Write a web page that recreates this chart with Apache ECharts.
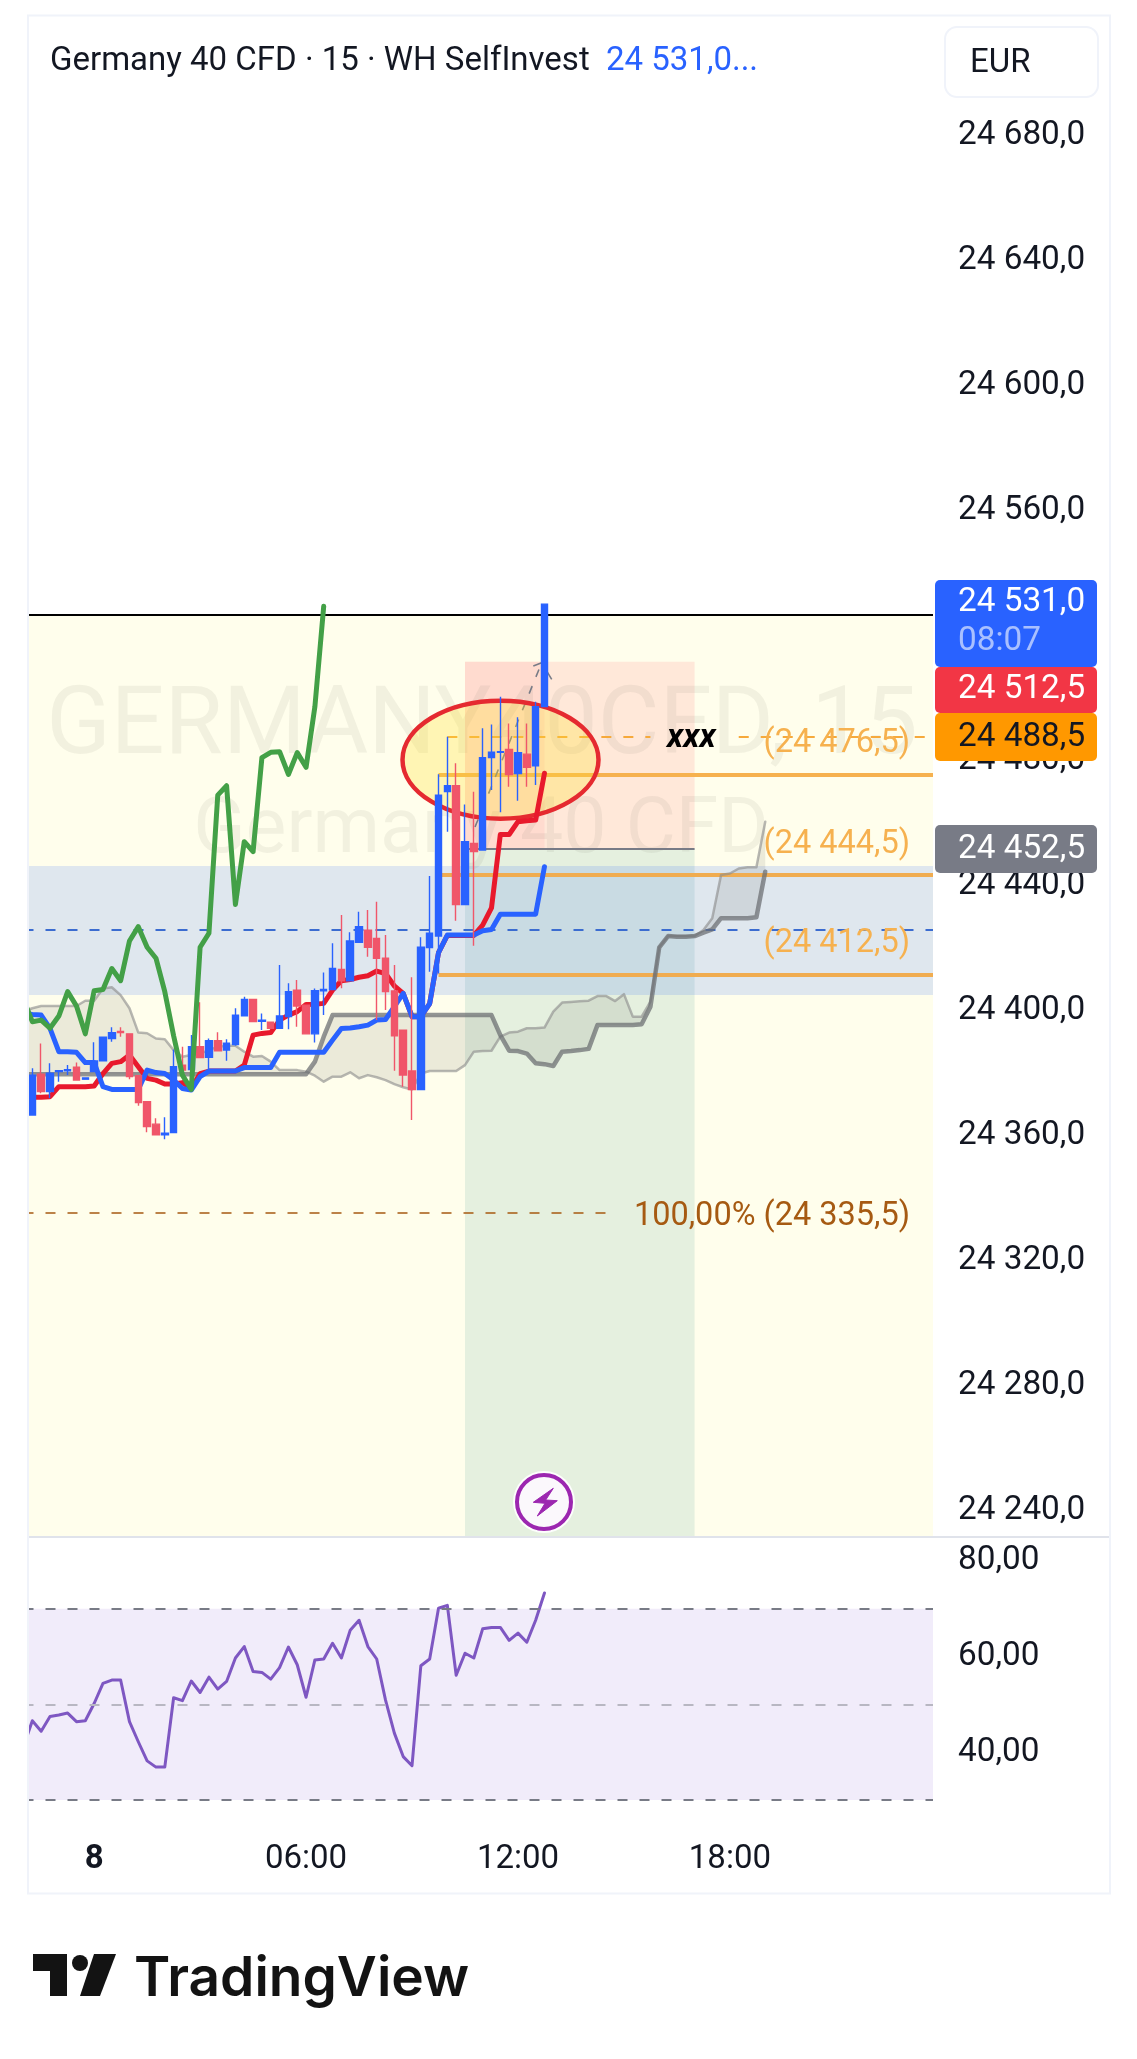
<!DOCTYPE html>
<html><head><meta charset="utf-8">
<style>html,body{margin:0;padding:0;background:#fff}#c{width:1137px;height:2059px}</style>
<script src="https://cdn.jsdelivr.net/npm/echarts@6/dist/echarts.min.js"></script>
</head><body><div id="c"></div>
<script>
const categories=['22:00','22:15','22:30','22:45','23:00','23:15','23:30','23:45',
'00:00','00:15','00:30','00:45','01:00','01:15','01:30','01:45','02:00','02:15','02:30','02:45','03:00','03:15','03:30','03:45',
'04:00','04:15','04:30','04:45','05:00','05:15','05:30','05:45','06:00','06:15','06:30','06:45','07:00','07:15','07:30','07:45',
'08:00','08:15','08:30','08:45','09:00','09:15','09:30','09:45','10:00','10:15','10:30','10:45','11:00','11:15','11:30','11:45',
'12:00','12:15','12:30','12:45','13:00','13:15','13:30','13:45','14:00','14:15','14:30','14:45','15:00','15:15','15:30','15:45',
'16:00','16:15','16:30','16:45','17:00','17:15','17:30','17:45','18:00','18:15','18:30','18:45','19:00','19:15','19:30','19:45',
'20:00','20:15','20:30','20:45','21:00','21:15','21:30','21:45','22:00','22:15','22:30','22:45','23:00','23:15','23:30','23:45'];
const xTickCats=['00:00','06:00','12:00','18:00'];
const xTickLabels=['{b|8}','06:00','12:00','18:00'];
const yTicks=[24240,24280,24320,24360,24400,24440,24480,24520,24560,24600,24640,24680];
const yTickLabels=['24 240,0','24 280,0','24 320,0','24 360,0','24 400,0','24 440,0','24 480,0','','24 560,0','24 600,0','24 640,0','24 680,0'];
const rsiTicks=[40,60,80];
const rsiTickLabels=['40,00','60,00','80,00'];

const candleOpen=[24366.7,24379.8,24374.2,24380.6,24380.9,24382,24378.2,24380.6,24384.1,24391.2,24393.5,24392.7,24379.3,24371,24363.8,24360.4,24361.1,24382.7,24381.3,24388.6,24385.2,24390.5,24387.5,24389.3,24398.5,24403.7,24396.7,24396.4,24394.5,24398.2,24406.7,24401.9,24392.7,24406.5,24406.9,24413.3,24409.7,24422,24425.9,24423.2,24416.9,24406.4,24393.9,24380.8,24374.9,24420.3,24424,24470.2,24472.1,24434.1,24453.65,24451.5,24481.1,24482.8,24483.7,24476,24482.2,24478.5,24497.4];
const candleClose=[24379.5,24374.2,24380.1,24380.9,24381.2,24377.9,24378.6,24384,24391.6,24393.1,24393.1,24379,24370.7,24363,24360.4,24360.9,24382.2,24381.1,24388.6,24385.1,24390.5,24387.3,24389.7,24398.7,24403.7,24396.6,24397.1,24394.5,24398.4,24406.2,24401.6,24392.7,24406.5,24406.9,24413.6,24409.7,24422.4,24427,24420.4,24416.9,24406.2,24392.1,24379.5,24374.9,24420.4,24424.9,24469.1,24472.1,24434.1,24454.2,24451,24481.1,24482.8,24483,24475.7,24482.7,24478,24497.4,24530.2];
const candleLow=[24366.7,24373.7,24372.1,24377.4,24379.5,24377.9,24378.2,24380.6,24384.1,24390.2,24391.8,24378.2,24369.7,24361.2,24360.4,24359,24361.1,24379,24380,24385.1,24381.1,24387.3,24384.1,24388.9,24398.5,24396.6,24393.9,24394.5,24394.5,24394.2,24395,24392.7,24389.9,24398.7,24406.7,24407.3,24409.7,24422,24417.4,24397.1,24400.3,24380.9,24375.8,24365.1,24374.9,24412.6,24412,24457.4,24428.9,24434.1,24420.9,24451.5,24470.7,24463.6,24471.8,24467.3,24471.8,24472.3,24497.4];
const candleHigh=[24381.7,24389.6,24383.3,24380.9,24382.7,24383.5,24378.6,24390,24391.6,24394.8,24394.8,24392.7,24379.3,24371,24365.7,24366,24387.7,24388.6,24392.3,24402.8,24391.2,24393.2,24391,24400.9,24404.6,24403.7,24399.2,24396.4,24414.7,24408.9,24409.9,24401.9,24407.2,24412.3,24421.7,24430.7,24425.2,24431.8,24432.3,24435,24424.3,24414.7,24393.9,24410.8,24423.6,24443.2,24475.8,24487.8,24479.25,24466.1,24470.2,24490.45,24491.7,24500.6,24492,24494,24492,24499,24530.2];

const baseLine=[24399.25,24398.9,24398.7,24394.45,24387,24387,24386.8,24383.5,24383.5,24375.8,24374.9,24374.9,24374.9,24374.9,24381.1,24380.3,24380,24377.9,24375.2,24374.7,24379,24380.8,24380.8,24380.8,24380.8,24381.9,24381.9,24381.9,24381.9,24386.8,24386.8,24386.8,24386.8,24386.8,24386.8,24390.7,24394.45,24394.6,24395,24395.5,24397.1,24397.3,24401.4,24405.65,24398.2,24398.2,24402.4,24418.7,24424.3,24424.3,24424.3,24424.3,24425.7,24426.1,24431,24431,24431,24431,24431,24446.2];
const conversionLine=[24375.8,24372.4,24372.4,24372.6,24375.8,24375.8,24375.8,24375.8,24376,24380,24383.25,24383.8,24385.9,24382.2,24378.45,24377.9,24376.65,24376.65,24377.1,24375.25,24380,24380.8,24380.8,24380.8,24380.8,24382.7,24392.3,24392.85,24393.1,24397.1,24398.7,24399.8,24402.1,24402.2,24402.45,24406.7,24409.7,24410.1,24410.8,24411.3,24412.8,24412,24408,24405.65,24398.2,24398.2,24402.4,24418.7,24424.2,24424.2,24424.2,24424.2,24427.5,24433,24456.5,24456.5,24460.6,24460.9,24461.1,24476.1];
const laggingSpan=[24403.7,24396.6,24397.1,24394.5,24398.4,24406.2,24401.6,24392.7,24406.5,24406.9,24413.6,24409.7,24422.4,24427,24420.4,24416.9,24406.2,24392.1,24379.5,24374.9,24420.4,24424.9,24469.1,24472.1,24434.1,24454.2,24451,24481.1,24482.8,24483,24475.7,24482.7,24478,24497.4,24529.5];
const spanA=[24399.8,24400.9,24401.6,24401.6,24401.6,24401.6,24401.6,24403.3,24403.3,24407.2,24407.6,24405.1,24400.9,24393.1,24392.9,24391.2,24391,24387.5,24385.4,24385.9,24386.4,24387.5,24388.6,24388.9,24388.9,24387,24385.4,24385.6,24383.8,24381.1,24381.1,24381.1,24380.6,24379.3,24377.4,24379,24379,24380.4,24378.5,24379.5,24378.8,24377.9,24376.6,24375.6,24374.9,24380,24380.8,24380.8,24380.8,24380.8,24382.7,24387,24387.2,24387.3,24391.8,24393.1,24393.4,24394.5,24394.5,24394.7,24399.8,24402.7,24402.9,24403.1,24403.3,24404.8,24404.8,24403.2,24405.4,24398.2,24398.2,24403,24420.4,24424,24424,24424,24424,24425.9,24429.7,24443.5,24444,24445.6,24446,24446,24460.6];
const spanB=[24379.8,24379.8,24379.8,24379.8,24379.8,24379.8,24379.8,24379.8,24379.8,24379.8,24379.8,24379.8,24379.8,24379.8,24379.8,24379.8,24379.8,24379.8,24379.8,24379.8,24379.8,24379.8,24379.8,24379.8,24379.8,24379.8,24379.8,24379.8,24379.8,24379.8,24379.8,24379.8,24379.8,24383.8,24391.8,24398.7,24398.7,24398.7,24398.7,24398.7,24398.7,24398.7,24398.7,24398.7,24398.7,24398.7,24398.7,24398.7,24398.7,24398.7,24398.7,24398.7,24398.7,24398.7,24392.3,24387.3,24387.2,24386.4,24383.3,24383,24382.4,24387,24387.2,24387.5,24387.9,24395.5,24395.5,24395.5,24395.5,24395.5,24395.8,24401.4,24420.4,24424,24423.8,24423.8,24424,24425.1,24426.1,24429.7,24429.7,24429.7,24429.7,24430,24444.6];
const rsi=[41.2,46.6,44.4,47.5,47.8,48.2,46.4,46.6,50.2,54.4,55.1,55.1,46.4,42.2,38.2,36.9,36.9,51.4,50.8,54.9,52.5,55.7,53.2,54.8,59.7,62.1,56.9,56.7,55.3,57.7,62,58.3,51.5,59.3,59.5,62.8,59.7,65.5,67.6,62.1,59.5,50.9,44,39.1,37.2,58.1,59.5,70.1,70.7,56.1,60.7,59.7,65.8,66.1,66.1,63.4,64.9,63,67.6,73.3];

const PMIN=24231.7,PMAX=24718.4,RMIN=24.8,RMAX=85,LAST=103;
const frameTop=24526.7, bandHi=24446.4, bandLo=24405.1, riskTop=24511.8, entry=24451.84;
const fibLevels=[24475.7,24443.7,24411.7];
const fibDash=24487.8, fibBottom=24335.5, lastClose=24425.9;
const font='Roboto';
const seg=(c1,c2,p,style)=>[{coord:[c1,p],lineStyle:style},{coord:[c2,p]}];
const area=(c1,p1,c2,p2,color)=>[{coord:[c1,p1],itemStyle:{color}},{coord:[c2,p2]}];

const chart=echarts.init(document.getElementById('c'),null,{renderer:'canvas'});
const lineSer=(name,data,color,width,z)=>({name,type:'line',data,z,showSymbol:false,symbol:'none',lineStyle:{color,width,join:'round',cap:'round'},itemStyle:{color},silent:true,animation:false,clip:true});

const orange='#F6B14F';
chart.setOption({
 animation:false,
 grid:[{left:23.5,width:909.5,top:16,height:1521},{left:23.5,width:909.5,top:1537,height:288}],
 xAxis:[
  {type:'category',gridIndex:0,data:categories,boundaryGap:false,axisLine:{show:false},axisTick:{show:false},axisLabel:{show:false},splitLine:{show:false}},
  {type:'category',gridIndex:1,data:categories,boundaryGap:false,axisLine:{show:false},axisTick:{show:false},splitLine:{show:false},
   axisLabel:{interval:(i,v)=>xTickCats.includes(v)&&i<104,formatter:v=>xTickLabels[xTickCats.indexOf(v)],margin:18,fontFamily:font,fontSize:33,color:'#131722',
    rich:{b:{fontFamily:font,fontSize:33,fontWeight:'bold',color:'#131722'}}}}
 ],
 yAxis:[
  {type:'value',gridIndex:0,position:'right',min:PMIN,max:PMAX,axisLine:{show:false},axisTick:{show:false},splitLine:{show:false},
   axisLabel:{customValues:yTicks,formatter:v=>yTickLabels[yTicks.indexOf(v)],margin:25,padding:[8,0,0,0],fontFamily:font,fontSize:33.3,color:'#131722'}},
  {type:'value',gridIndex:1,position:'right',min:RMIN,max:RMAX,axisLine:{show:false},axisTick:{show:false},splitLine:{show:false},
   axisLabel:{customValues:rsiTicks,formatter:v=>rsiTickLabels[rsiTicks.indexOf(v)],margin:25,padding:[2,0,0,0],fontFamily:font,fontSize:33.3,color:'#131722'}}
 ],
 series:[
  {name:'bands',type:'line',data:[],z:1,silent:true,
   markArea:{silent:true,z:1,data:[
    area(0,frameTop,LAST,PMIN,'#FFFEEC'),
    area(50,riskTop,76,entry,'rgba(255,82,90,0.13)'),
    area(50,riskTop,59,entry,'rgba(255,82,90,0.08)'),
    area(50,entry,76,PMIN,'rgba(81,160,156,0.15)'),
    area(0,bandHi,LAST,bandLo,'rgba(41,98,255,0.15)')
   ]}},
  {name:'cloud',type:'custom',z:2,silent:true,clip:true,data:[[0,spanA[0]]],encode:{x:0,y:1},
   renderItem:(p,api)=>{
    const pts=spanA.map((v,i)=>api.coord([i,v])).concat(spanB.map((v,i)=>api.coord([i,v])).reverse());
    return {type:'polygon',shape:{points:pts},style:{fill:'rgba(110,112,105,0.14)',stroke:null}};
   }},
  lineSer('Leading span A',spanA,'rgba(140,140,140,0.62)',2.5,3),
  lineSer('Leading span B',spanB,'rgba(105,108,112,0.72)',4.5,3),
  {name:'levels',type:'line',data:[],z:3,silent:true,
   markLine:{silent:true,symbol:'none',z:3,label:{show:false},data:[
    seg(0,LAST,frameTop,{color:'#000',width:2,type:'solid'}),
    seg(0,LAST,lastClose,{color:'#3B6CD0',width:2,type:[10,12]}),
    seg(0,67,fibBottom,{color:'#A65A12',width:1.6,type:[10,12]}),
    seg(48,71,fibDash,{color:'#F6A93B',width:2,type:[10,12]}),
    seg(81,LAST,fibDash,{color:'#F6A93B',width:2,type:[10,12]}),
    seg(47,LAST,fibLevels[0],{color:orange,width:4,type:'solid'}),
    seg(47,LAST,fibLevels[1],{color:'#F0AC50',width:4,type:'solid'}),
    seg(47,LAST,fibLevels[2],{color:'#F0AC50',width:4,type:'solid'}),
    seg(50,76,entry,{color:'#787B86',width:2,type:'solid'})
   ]}},
  lineSer('Conversion',conversionLine,'#E8192C',5,4),
  lineSer('Base',baseLine,'#2962FF',5,4.5),
  {name:'Germany 40 CFD',type:'candlestick',z:5,silent:true,barWidth:7,
   data:['-'].concat(candleOpen.map((o,i)=>[o,candleClose[i],candleLow[i],candleHigh[i]])),
   itemStyle:{color:'#2962FF',color0:'#F0566A',borderColor:'#2962FF',borderColor0:'#F0566A',borderWidth:1.4}},
  lineSer('Lagging',laggingSpan,'#43A047',5,6),
  {name:'rsi band',type:'line',xAxisIndex:1,yAxisIndex:1,data:[],z:1,silent:true,
   markArea:{silent:true,data:[area(0,70,LAST,30,'#F1ECFA')]},
   markLine:{silent:true,symbol:'none',label:{show:false},data:[
    seg(0,LAST,70,{color:'#787B86',width:2,type:[10,12]}),
    seg(0,LAST,50,{color:'#B8B7C2',width:2,type:[10,12]}),
    seg(0,LAST,30,{color:'#787B86',width:2,type:[10,12]})
   ]}},
  Object.assign(lineSer('RSI',rsi,'#7E57C2',3,3),{xAxisIndex:1,yAxisIndex:1})
 ]
});

const txt=(text,x,y,o={})=>({type:'text',x,y,z:o.z||80,silent:true,style:{text,fontFamily:o.f||font,fontSize:o.s||33.3,fontWeight:o.w||'normal',fontStyle:o.st||'normal',fill:o.c||'#131722',align:o.a||'left',verticalAlign:'middle'}});
const tag=(y,h,fill)=>({type:'rect',z:78,silent:true,shape:{x:935,y,width:162,height:h,r:5},style:{fill}});
const fibLabels=[['(24 476,5)',743.5],['(24 444,5)',844.5],['(24 412,5)',943.6]];
chart.setOption({graphic:{elements:[
 // watermark
 txt('GERMANY40CFD, 15',482,729,{a:'center',s:94.7,c:'rgba(110,110,90,0.085)',z:1.5}),
 txt('Germany 40 CFD',481,833,{a:'center',s:77,c:'rgba(110,110,90,0.085)',z:1.5}),
 // edge masks and frame
 {type:'rect',z:70,silent:true,shape:{x:0,y:0,width:28,height:2059},style:{fill:'#fff'}},
 {type:'line',z:71,silent:true,shape:{x1:28,y1:1537,x2:1110,y2:1537},style:{stroke:'#E0E3EB',lineWidth:2}},
 {type:'rect',z:72,silent:true,shape:{x:28,y:15.5,width:1082,height:1878},style:{fill:'none',stroke:'#F0F3FA',lineWidth:2}},
 // header
 txt('Germany 40 CFD · 15 · WH SelfInvest',50,61.5,{s:33}),
 txt('24 531,0...',606,61.5,{s:33,c:'#2962FF'}),
 {type:'rect',z:72,silent:true,shape:{x:945,y:27,width:153,height:70,r:12},style:{fill:'#fff',stroke:'#F0F3FA',lineWidth:2}},
 txt('EUR',970,64,{s:33}),
 // drawn annotations
 {type:'polyline',z:3.5,silent:true,shape:{points:[[475,827],[541.7,662.7]]},style:{fill:'none',stroke:'#787B86',lineWidth:1.6,lineDash:[8,10]}},
 {type:'polyline',z:3.5,silent:true,shape:{points:[[533.3,666],[541.7,662.7],[551.7,679.3]]},style:{fill:'none',stroke:'#787B86',lineWidth:1.6}},
 {type:'ellipse',z:3.9,silent:true,shape:{cx:500.5,cy:759.7,rx:98,ry:59},style:{fill:'rgba(255,225,50,0.3)',stroke:'#E52A30',lineWidth:4.5}},
 txt('xxx',667,739,{s:33,w:'bold',st:'italic',c:'#000'}),
 ...fibLabels.map(l=>txt(l[0],910,l[1],{a:'right',s:32.5,c:orange})),
 txt('100,00% (24 335,5)',910,1217,{a:'right',s:32.5,c:'#A65A12'}),
 // bolt badge
 {type:'circle',z:62,silent:true,shape:{cx:544,cy:1502,r:31},style:{fill:'rgba(255,255,255,0.9)'}},
 {type:'circle',z:63,silent:true,shape:{cx:544,cy:1502,r:27},style:{fill:'#FBF8FC',stroke:'#9C27B0',lineWidth:4}},
 {type:'polygon',z:64,silent:true,shape:{points:[[553.3,1488.3],[533.3,1502.3],[545,1503.3],[537.3,1516],[557.3,1500.7],[545.7,1500]]},style:{fill:'#9C27B0',stroke:'#9C27B0',lineWidth:1}},
 // price tags
 tag(580,87,'#2962FF'),tag(667,46,'#F23645'),tag(713,48,'#FF9800'),tag(825,48,'#787B86'),
 txt('24 531,0',958,603,{c:'#fff',z:79}),
 txt('08:07',958,642,{c:'rgba(255,255,255,0.6)',z:79}),
 txt('24 512,5',958,690,{c:'#fff',z:79}),
 txt('24 488,5',958,738,{c:'#131722',z:79}),
 txt('24 452,5',958,850,{c:'#fff',z:79}),
 // logo
 {type:'polygon',z:80,silent:true,shape:{points:[[33,1954],[67,1954],[67,1996],[50,1996],[50,1971],[33,1971]]},style:{fill:'#131313'}},
 {type:'circle',z:80,silent:true,shape:{cx:80,cy:1963,r:8},style:{fill:'#131313'}},
 {type:'polygon',z:80,silent:true,shape:{points:[[94,1954],[116,1954],[100,1996],[80,1996]]},style:{fill:'#131313'}},
 txt('TradingView',134,1979,{f:'Inter',s:55,w:600,c:'#131313'})
]}});
</script></body></html>
